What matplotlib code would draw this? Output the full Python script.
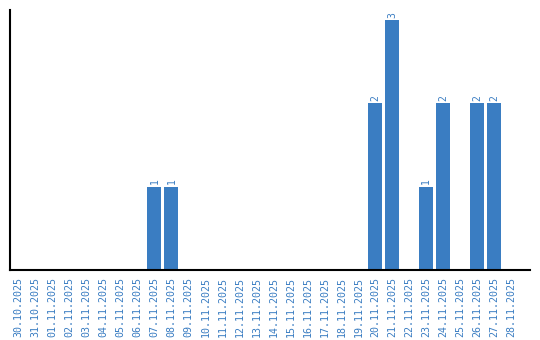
import matplotlib
matplotlib.use("Agg")
import matplotlib.pyplot as plt
import numpy as np
import datetime as dt

start = dt.date(2025, 10, 30)
dates = [(start + dt.timedelta(days=i)).strftime("%d.%m.%Y") for i in range(30)]
counts = {"07.11.2025": 1, "08.11.2025": 1, "20.11.2025": 2, "21.11.2025": 3,
          "23.11.2025": 1, "24.11.2025": 2, "26.11.2025": 2, "27.11.2025": 2}
values = [counts.get(d, 0) for d in dates]

color = "#3a7dc2"
fig = plt.figure(figsize=(5.4, 3.4), dpi=100)
ax = fig.add_axes([10/540, 70/340, 520/540, 260/340])
x = np.arange(len(dates))
for xi, v in zip(x, values):
    if v > 0:
        ax.bar(xi, v, width=0.82, color=color)
        ax.text(xi, v + 0.03, str(v), rotation=90, ha="center", va="bottom",
                color=color, fontsize=7, family="DejaVu Sans Mono")
ax.set_xlim(-0.5, 30.1)
ax.set_ylim(0, 3.12)
ax.set_xticks(x)
ax.set_xticklabels(dates, rotation=90, color=color, fontsize=7.2,
                   family="DejaVu Sans Mono")
ax.tick_params(axis="x", length=0, pad=5)
ax.set_yticks([])
ax.spines["top"].set_visible(False)
ax.spines["right"].set_visible(False)
ax.spines["left"].set_linewidth(1.5)
ax.spines["bottom"].set_linewidth(1.5)
fig.savefig("out.png", dpi=100)
